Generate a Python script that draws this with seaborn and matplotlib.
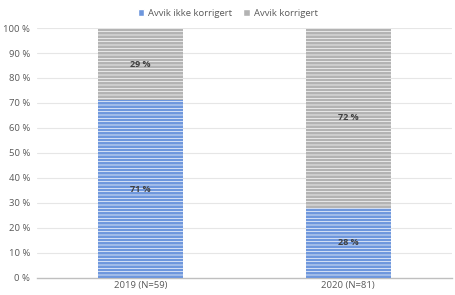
import matplotlib
matplotlib.use('Agg')
import matplotlib.pyplot as plt
import seaborn as sns
import pandas as pd
from matplotlib.patches import Patch

categories = ['2019 (N=59)', '2020 (N=81)']
ikke_korrigert = [71, 28]
korrigert = [29, 72]

sns.set_theme(style='white')
plt.rcParams['font.family'] = ['Open Sans', 'DejaVu Sans']
plt.rcParams['hatch.linewidth'] = 0.5

blue = '#6E97DD'
gray = '#B3B3B3'

df = pd.DataFrame({'cat': categories, 'ikke': ikke_korrigert,
                   'total': [a + b for a, b in zip(ikke_korrigert, korrigert)]})

fig = plt.figure(figsize=(4.55, 2.95), dpi=100)
ax = fig.add_axes([0.081, 0.058, 0.912, 0.847])

for y in range(10, 101, 10):
    ax.axhline(y, color='#E6E6E6', lw=0.8, zorder=0)

# stacked: grey total behind, blue share in front
plt.rcParams['hatch.color'] = '#C6C6C6'
sns.barplot(data=df, x='cat', y='total', color=gray, saturation=1, width=0.41,
            ax=ax, hatch='-----', linewidth=0, zorder=2)
plt.rcParams['hatch.color'] = '#8AACE6'
sns.barplot(data=df, x='cat', y='ikke', color=blue, saturation=1, width=0.41,
            ax=ax, hatch='-----', linewidth=0, zorder=3)

for i in range(len(categories)):
    ax.text(i, ikke_korrigert[i] / 2, f'{ikke_korrigert[i]} %', ha='center', va='center',
            fontsize=6.5, fontweight='bold', color='#404040', zorder=5)
    ax.text(i, ikke_korrigert[i] + korrigert[i] / 2, f'{korrigert[i]} %', ha='center', va='center',
            fontsize=6.5, fontweight='bold', color='#404040', zorder=5)

ax.set_ylim(0, 100)
ax.set_xlim(-0.5, 1.5)
ax.set_yticks(range(0, 101, 10))
ax.set_yticklabels([f'{v} %' for v in range(0, 101, 10)])
ax.tick_params(axis='both', labelsize=6.8, colors='#595959', length=0)
ax.tick_params(axis='y', pad=5)
ax.tick_params(axis='x', pad=2.5)
ax.set_xlabel('')
ax.set_ylabel('')
for s in ['top', 'right', 'left']:
    ax.spines[s].set_visible(False)
ax.spines['bottom'].set_color('#BFBFBF')
ax.spines['bottom'].set_linewidth(1)

handles = [Patch(facecolor=blue, label='Avvik ikke korrigert'),
           Patch(facecolor=gray, label='Avvik korrigert')]
fig.legend(handles=handles, loc='center', bbox_to_anchor=(0.5, 0.955), ncol=2, frameon=False,
           fontsize=6.8, handlelength=0.7, handleheight=0.7, columnspacing=1.2, handletextpad=0.4,
           labelcolor='#595959')

fig.savefig('out.png', dpi=100)
